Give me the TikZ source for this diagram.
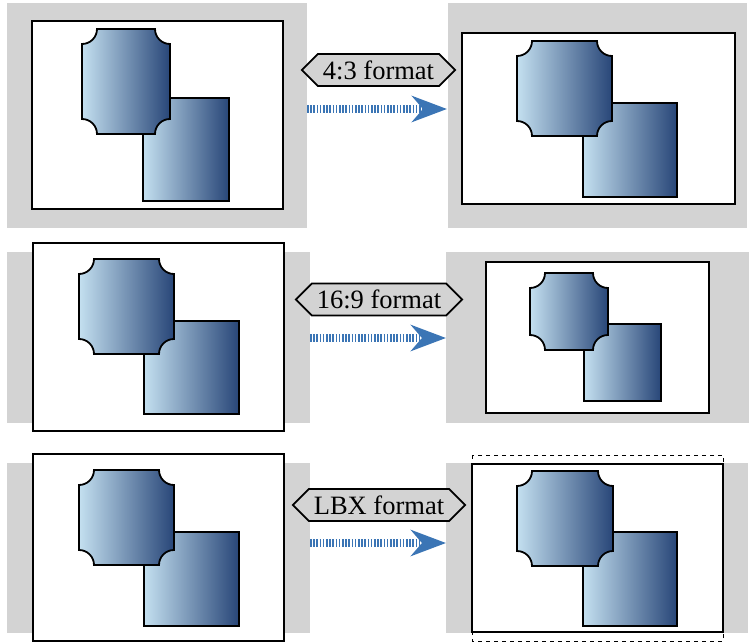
\documentclass[tikz,border=0pt]{standalone}
\usepackage{fontspec}
\usepackage{xcolor}
\usepackage{tikz}
\usetikzlibrary{arrows.meta, shapes.symbols}

\newfontfamily\labelfont{Liberation Serif}

\definecolor{panelgray}{RGB}{211,211,211}
\definecolor{tilelight}{RGB}{196,224,240}
\definecolor{tiledark}{RGB}{40,70,120}
\definecolor{arrowblue}{RGB}{59,117,181}

\tikzset{
	panel/.style={fill=panelgray},
	screen/.style={draw, line width=2pt, fill=white},
	tile/.style={draw, line width=1.8pt, line join=miter, left color=tilelight, right color=tiledark},
	fmtlabel/.style={signal, signal to=east and west, draw, line width=1.8pt, fill=panelgray,
			minimum height=32pt, inner xsep=5pt, font=\labelfont\fontsize{26.5}{30}\selectfont},
	convert/.style={draw=arrowblue, line width=7.5pt, dash pattern=on 1.5pt off 1.7pt,
			-{Stealth[length=35pt, width=26pt, inset=11pt, fill=arrowblue]}}
}

% tile with concave corners: upper-left, lower-right corners (px)
\newcommand{\cutbox}[4]{%
	\draw[tile] ({#1+15},#2) -- ({#3-15},#2)
	.. controls ({#3-15},{#2+8.3}) and ({#3-8.3},{#2+15}) .. (#3,{#2+15})
	-- (#3,{#4-15})
	.. controls ({#3-8.3},{#4-15}) and ({#3-15},{#4-8.3}) .. ({#3-15},#4)
	-- ({#1+15},#4)
	.. controls ({#1+15},{#4-8.3}) and ({#1+8.3},{#4-15}) .. (#1,{#4-15})
	-- (#1,{#2+15})
	.. controls ({#1+8.3},{#2+15}) and ({#1+15},{#2+8.3}) .. ({#1+15},#2) -- cycle;}

\begin{document}
\begin{tikzpicture}[x=1pt, y=-1pt]
	\useasboundingbox (0,0) rectangle (752,642);

	% 4:3
	\fill[panel] (7,3) rectangle (307,228);
	\draw[screen] (32,21) rectangle (283,209);
	\draw[tile] (143,98) rectangle (229,201);
	\cutbox{82}{29}{170}{134}

	\fill[panel] (448,3) rectangle (747,228);
	\draw[screen] (462,33) rectangle (735,204);
	\draw[tile] (583,103) rectangle (677,197);
	\cutbox{517}{41}{612}{136}

	% 16:9
	\fill[panel] (7,252) rectangle (310,423);
	\draw[screen] (33,243) rectangle (284,431);
	\draw[tile] (144,321) rectangle (239,414);
	\cutbox{79}{259}{174}{354}

	\fill[panel] (446,252) rectangle (749,423);
	\draw[screen] (486,262) rectangle (709,413);
	\draw[tile] (584,324) rectangle (661,401);
	\cutbox{530}{273}{608}{350}

	% LBX
	\fill[panel] (7,463) rectangle (310,633);
	\draw[screen] (33,454) rectangle (284,641);
	\draw[tile] (144,532) rectangle (239,626);
	\cutbox{79}{470}{174}{565}

	\fill[panel] (446,463) rectangle (748,633);
	\draw[line width=1pt, dash pattern=on 4pt off 4pt] (472,455) rectangle (723,641);
	\draw[screen] (472,464) rectangle (723,632);
	\draw[tile] (583,532) rectangle (677,626);
	\cutbox{517}{471}{613}{566}

	\node[fmtlabel] (fmt43) at (378.5,70) {4:3 format};
	\node[fmtlabel] (fmt169) at (379,299.5) {16:9 format};
	\node[fmtlabel] (fmtlbx) at (379,505) {LBX format};

	\coordinate (src43) at (307,109);
	\coordinate (dst43) at (447,109);
	\coordinate (src169) at (310,338);
	\coordinate (dst169) at (446,338);
	\coordinate (srclbx) at (310,543);
	\coordinate (dstlbx) at (446,543);

	\foreach \f in {43, 169, lbx} {
			\draw[convert] (src\f) -- (dst\f);
		}
\end{tikzpicture}
\end{document}
